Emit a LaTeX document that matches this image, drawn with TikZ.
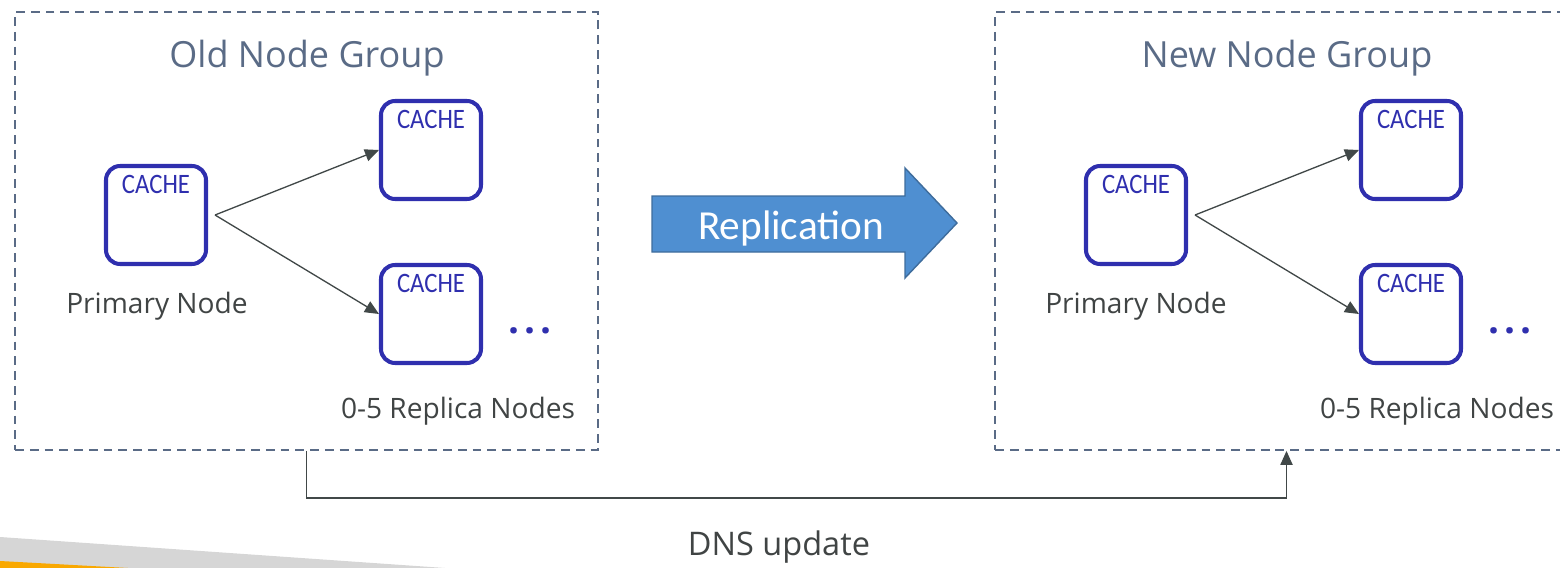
\documentclass[tikz,border=0pt]{standalone}
\usepackage{fontspec}
\setmainfont{Open Sans}
\newfontfamily\cachefont[FakeStretch=0.88]{Carlito}
\newfontfamily\replfont{Carlito}
\usepackage{tikz}
\usetikzlibrary{arrows.meta,positioning}
\definecolor{grpline}{HTML}{5A6B86}
\definecolor{cacheblue}{HTML}{2F2FAE}
\definecolor{linkgray}{HTML}{414848}
\definecolor{lblgray}{HTML}{404444}
\definecolor{replfill}{HTML}{4F8FD1}
\definecolor{repledge}{HTML}{3E6C9C}
\definecolor{wedgegray}{HTML}{D6D6D6}
\definecolor{wedgeorange}{HTML}{F9A800}
\tikzset{
  grpbox/.style={draw=grpline, line width=1.1pt, dash pattern=on 5pt off 3.4pt, minimum width=11.66cm, minimum height=8.76cm, inner sep=0pt},
  grptitle/.style={text=grpline, font=\fontsize{20.5}{24}\selectfont, inner sep=0pt},
  cachebox/.style={draw=cacheblue, line width=2.3pt, rounded corners=0.28cm, minimum width=2cm, minimum height=1.96cm, inner sep=0pt},
  cachetag/.style={text=cacheblue, font=\cachefont\fontsize{16}{18}\selectfont, inner sep=0pt},
  nodelbl/.style={text=lblgray, font=\fontsize{16}{18}\selectfont, inner sep=0pt},
  moredots/.style={text=cacheblue, font=\bfseries\fontsize{22}{24}\selectfont, inner sep=0pt},
  linkarrow/.style={draw=linkgray, line width=0.75pt, -{Triangle[length=8pt,width=7pt]}}
}
\begin{document}
\begin{tikzpicture}[x=0.02cm, y=-0.02cm]
\useasboundingbox (0,0) rectangle (1560,568);
% corner decoration
\fill[wedgegray] (0,537) -- (445,568) -- (0,568) -- cycle;
\fill[wedgeorange] (0,561) -- (128,568) -- (0,568) -- cycle;

% old node group
\node[grpbox] (oldgrp) at (306.5,231) {};
\node[grptitle] (oldttl) at (307,58) {Old Node Group};
\node[cachebox] (oldp) at (156,215) {};
\node[cachetag, below=6pt of oldp.north] (oldpt) {CACHE};
\node[cachebox] (oldr1) at (431,150) {};
\node[cachetag, below=6pt of oldr1.north] (oldr1t) {CACHE};
\node[cachebox] (oldr2) at (431,314) {};
\node[cachetag, below=6pt of oldr2.north] (oldr2t) {CACHE};
\node[moredots] (olddots) at (530,331) {.\kern3pt.\kern3pt.};
\node[nodelbl] (oldplbl) at (157,306) {Primary Node};
\node[nodelbl] (oldrlbl) at (458,411) {0-5 Replica Nodes};
\draw[linkarrow] ([xshift=4pt]oldp.east) -- (oldr1.west);
\draw[linkarrow] ([xshift=4pt]oldp.east) -- (oldr2.west);

% replication
\draw[fill=replfill, draw=repledge, line width=0.8pt]
  (652,196) -- (905,196) -- (905,168) -- (957,223) -- (905,278) -- (905,252) -- (652,252) -- cycle;
\node[text=white, font=\replfont\fontsize{23.5}{26}\selectfont, inner sep=0pt] (repl) at (791,228) {Replication};

% new node group
\node[grpbox] (newgrp) at (1286.5,231) {};
\node[grptitle] (newttl) at (1287,58) {New Node Group};
\node[cachebox] (newp) at (1136,215) {};
\node[cachetag, below=6pt of newp.north] (newpt) {CACHE};
\node[cachebox] (newr1) at (1411,150) {};
\node[cachetag, below=6pt of newr1.north] (newr1t) {CACHE};
\node[cachebox] (newr2) at (1411,314) {};
\node[cachetag, below=6pt of newr2.north] (newr2t) {CACHE};
\node[moredots] (newdots) at (1510,331) {.\kern3pt.\kern3pt.};
\node[nodelbl] (newplbl) at (1136,306) {Primary Node};
\node[nodelbl] (newrlbl) at (1437,411) {0-5 Replica Nodes};
\draw[linkarrow] ([xshift=4pt]newp.east) -- (newr1.west);
\draw[linkarrow] ([xshift=4pt]newp.east) -- (newr2.west);

% dns switch
\draw[linkarrow] (oldgrp.south) -- ++(0,47) -| (newgrp.south);
\node[text=lblgray, font=\fontsize{18.5}{22}\selectfont, inner sep=0pt] (dns) at (779,547) {DNS update};
\end{tikzpicture}
\end{document}
